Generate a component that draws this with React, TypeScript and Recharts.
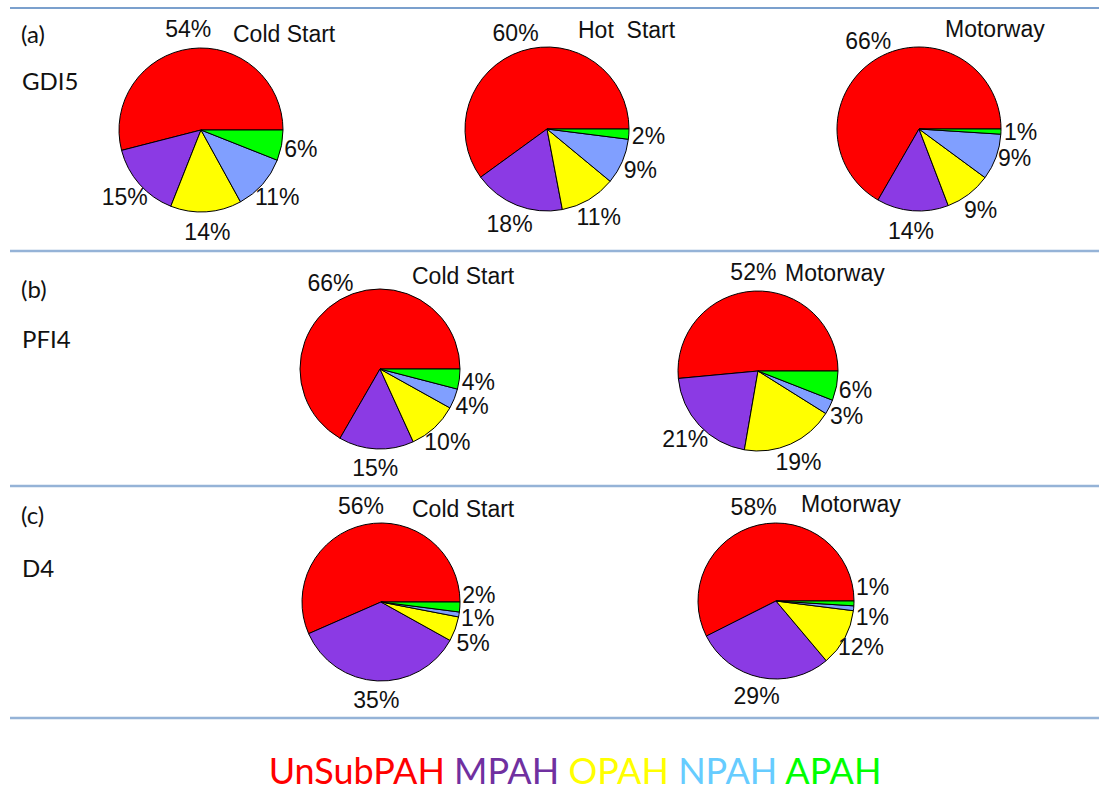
import { PieChart, Pie, Cell } from 'recharts'

// PAH groups, in the order the slices run round each pie
const categories = ['UnSubPAH', 'MPAH', 'OPAH', 'NPAH', 'APAH']
const sliceColors = ['#ff0000', '#8b3ae4', '#ffff00', '#809fff', '#00ff00']
const legendColors = ['#ff0000', '#7030a0', '#ffff00', '#66ccff', '#00ff00']

// share (%) of each group, per vehicle and test cycle
const gdi5Cold = [54, 15, 14, 11, 6]
const gdi5Hot = [60, 18, 11, 9, 2]
const gdi5Motorway = [66, 14, 9, 9, 1]
const pfi4Cold = [66, 15, 10, 4, 4]
const pfi4Motorway = [52, 21, 19, 3, 6]
const d4Cold = [56, 35, 5, 1, 2]
const d4Motorway = [58, 29, 12, 1, 1]

const rowTags = ['(a)', '(b)', '(c)']
const vehicles = ['GDI5', 'PFI4', 'D4']

const W = 1099
const H = 788
const RADIAN = Math.PI / 180
const LABEL_FONT = '"Liberation Sans", Arial, sans-serif'
const TAG_FONT = 'Lato, "Open Sans", sans-serif'
const LABEL_SIZE = 23

// layout of each pie; nudge shifts crowded labels up/down a little
const panels = [
  { key: 'g-cold', title: 'Cold Start', values: gdi5Cold, cx: 201, cy: 130, r: 82, tx: 233, ty: 42, nudge: [0, 0, 0, 0, 0] },
  { key: 'g-hot', title: 'Hot\u00a0 Start', values: gdi5Hot, cx: 547, cy: 129, r: 82, tx: 578, ty: 38, nudge: [0, 0, 0, 0, 0] },
  { key: 'g-mw', title: 'Motorway', values: gdi5Motorway, cx: 919, cy: 129, r: 82, tx: 945, ty: 37, nudge: [0, 0, 0, -6, 0] },
  { key: 'p-cold', title: 'Cold Start', values: pfi4Cold, cx: 380, cy: 369, r: 80, tx: 412, ty: 284, nudge: [0, 0, 0, 0, 0] },
  { key: 'p-mw', title: 'Motorway', values: pfi4Motorway, cx: 758, cy: 371, r: 80, tx: 785, ty: 281, nudge: [0, 0, 0, 0, 0] },
  { key: 'd-cold', title: 'Cold Start', values: d4Cold, cx: 381, cy: 602, r: 79, tx: 412, ty: 517, nudge: [0, 0, 7, 0, -13] },
  { key: 'd-mw', title: 'Motorway', values: d4Motorway, cx: 776, cy: 601, r: 78, tx: 801, ty: 512, nudge: [0, 0, 0, 7, -17] },
]

const rowTagY = [43, 298, 524]
const vehicleY = [90, 348, 577]
const separators = [8, 251, 486, 718]

function makeLabel(nudge: number[]) {
  return (props: any) => {
    const { cx, cy, midAngle, outerRadius, value, index } = props
    const rr = outerRadius * 1.24
    const x = cx + rr * Math.cos(-midAngle * RADIAN)
    // place the middle of the digits on the label point
    const y = cy + rr * Math.sin(-midAngle * RADIAN) + (nudge[index] || 0) + LABEL_SIZE * 0.358
    return (
      <text x={x} y={y} textAnchor="middle" fontFamily={LABEL_FONT} fontSize={LABEL_SIZE} fill="#111">
        {value}%
      </text>
    )
  }
}

export default function App() {
  return (
    <div style={{ position: 'absolute', left: 0, top: 0, width: W, height: H, background: '#fff' }}>
      <PieChart
        width={W}
        height={H}
        margin={{ top: 0, right: 0, bottom: 0, left: 0 }}
        style={{ position: 'absolute', left: 0, top: 0 }}
      >
        {panels.map((p) => (
          <Pie
            key={p.key}
            data={p.values.map((v, i) => ({ name: categories[i], value: v }))}
            dataKey="value"
            cx={p.cx}
            cy={p.cy}
            outerRadius={p.r}
            startAngle={0}
            endAngle={360}
            stroke="#000"
            strokeWidth={1}
            labelLine={false}
            label={makeLabel(p.nudge)}
            isAnimationActive={false}
          >
            {p.values.map((_, i) => (
              <Cell key={i} fill={sliceColors[i]} />
            ))}
          </Pie>
        ))}
      </PieChart>

      <svg width={W} height={H} style={{ position: 'absolute', left: 0, top: 0, pointerEvents: 'none' }}>
        {separators.map((y, i) => (
          <line
            key={y}
            x1={10}
            x2={W}
            y1={y}
            y2={y}
            stroke={i === 0 ? '#4f81bd' : '#95b3d7'}
            strokeWidth={i === 0 ? 1.5 : 2.5}
          />
        ))}
        {rowTags.map((t, i) => (
          <text key={t} x={21} y={rowTagY[i]} fontFamily={TAG_FONT} fontSize={24} fill="#111">
            {t}
          </text>
        ))}
        {vehicles.map((v, i) => (
          <text key={v} x={22} y={vehicleY[i]} fontFamily={TAG_FONT} fontSize={24} fill="#111">
            {v}
          </text>
        ))}
        {panels.map((p) => (
          <text key={p.key} x={p.tx} y={p.ty} fontFamily={LABEL_FONT} fontSize={LABEL_SIZE} fill="#111">
            {p.title}
          </text>
        ))}
        <text x={575} y={784} textAnchor="middle" fontFamily={TAG_FONT} fontSize={36}>
          {categories.map((c, i) => (
            <tspan key={c} fill={legendColors[i]}>
              {(i > 0 ? ' ' : '') + c}
            </tspan>
          ))}
        </text>
      </svg>
    </div>
  )
}
